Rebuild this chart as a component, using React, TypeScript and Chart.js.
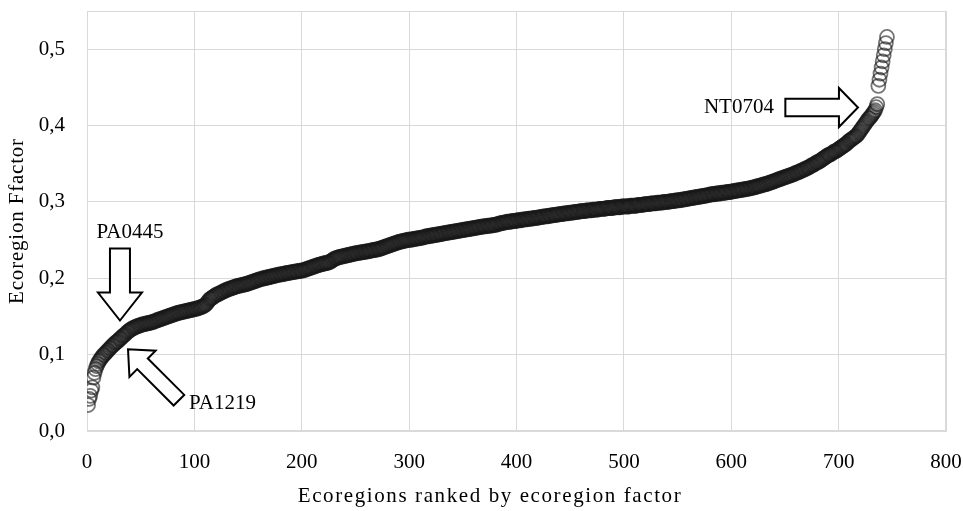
import React, { useEffect, useRef } from 'react';
import { Chart, registerables } from 'chart.js';

Chart.register(...registerables);

// Ecoregion factor values, ranked ascending (rank = position + 1)
const factorsA = [
  0.034, 0.042, 0.046, 0.053, 0.057, 0.070, 0.076, 0.081, 0.085, 0.088,
  0.091, 0.093, 0.095, 0.097, 0.099, 0.100, 0.102, 0.103, 0.105, 0.106,
  0.108, 0.109, 0.111, 0.112, 0.113, 0.115, 0.116, 0.117, 0.118, 0.120,
  0.121, 0.122, 0.124, 0.125, 0.126, 0.127, 0.129, 0.130, 0.131, 0.132,
  0.133, 0.134, 0.135, 0.135, 0.136, 0.137, 0.137, 0.138, 0.138, 0.139,
  0.139, 0.140, 0.140, 0.140, 0.141, 0.141, 0.141, 0.142, 0.142, 0.142,
  0.143, 0.143, 0.144, 0.144, 0.145, 0.145, 0.146, 0.146, 0.147, 0.147,
  0.148, 0.148, 0.149, 0.149, 0.150, 0.150, 0.151, 0.151, 0.152, 0.152,
  0.153, 0.153, 0.154, 0.154, 0.155, 0.155, 0.155, 0.156, 0.156, 0.156,
  0.157, 0.157, 0.157, 0.158, 0.158, 0.158, 0.159, 0.159, 0.159, 0.160,
  0.160, 0.160, 0.161, 0.161, 0.162, 0.162, 0.163, 0.163, 0.164, 0.165,
  0.166, 0.168, 0.170, 0.172, 0.173, 0.174, 0.175, 0.176, 0.177, 0.178,
];

const factorsB = [
  0.179, 0.179, 0.180, 0.181, 0.181, 0.182, 0.183, 0.183, 0.184, 0.185,
  0.185, 0.186, 0.186, 0.187, 0.187, 0.188, 0.188, 0.189, 0.189, 0.190,
  0.190, 0.190, 0.191, 0.191, 0.191, 0.192, 0.192, 0.192, 0.193, 0.193,
  0.194, 0.194, 0.195, 0.195, 0.196, 0.196, 0.197, 0.197, 0.198, 0.198,
  0.199, 0.199, 0.199, 0.200, 0.200, 0.200, 0.201, 0.201, 0.201, 0.202,
  0.202, 0.202, 0.203, 0.203, 0.203, 0.204, 0.204, 0.204, 0.205, 0.205,
  0.205, 0.205, 0.206, 0.206, 0.206, 0.207, 0.207, 0.207, 0.207, 0.208,
  0.208, 0.208, 0.208, 0.209, 0.209, 0.209, 0.209, 0.210, 0.210, 0.210,
  0.210, 0.211, 0.211, 0.212, 0.212, 0.213, 0.213, 0.214, 0.214, 0.215,
  0.215, 0.216, 0.216, 0.217, 0.217, 0.218, 0.218, 0.218, 0.219, 0.219,
  0.219, 0.220, 0.220, 0.220, 0.221, 0.221, 0.222, 0.223, 0.224, 0.225,
  0.226, 0.226, 0.227, 0.227, 0.228, 0.228, 0.228, 0.229, 0.229, 0.229,
  0.230, 0.230, 0.230, 0.231, 0.231, 0.231, 0.232, 0.232, 0.232, 0.233,
  0.233, 0.233, 0.233, 0.234, 0.234, 0.234, 0.234, 0.235, 0.235, 0.235,
  0.235, 0.236, 0.236, 0.236, 0.236, 0.237, 0.237, 0.237, 0.237, 0.238,
  0.238, 0.238, 0.239, 0.239, 0.240, 0.240, 0.241, 0.241, 0.242, 0.242,
  0.243, 0.243, 0.244, 0.244, 0.245, 0.245, 0.246, 0.246, 0.247, 0.247,
  0.248, 0.248, 0.248, 0.249, 0.249, 0.249, 0.250, 0.250, 0.250, 0.251,
];

const factorsC = [
  0.250, 0.251, 0.251, 0.251, 0.252, 0.252, 0.252, 0.252, 0.253, 0.253,
  0.253, 0.253, 0.254, 0.254, 0.254, 0.255, 0.255, 0.255, 0.255, 0.256,
  0.256, 0.256, 0.256, 0.257, 0.257, 0.257, 0.257, 0.258, 0.258, 0.258,
  0.258, 0.259, 0.259, 0.259, 0.259, 0.260, 0.260, 0.260, 0.260, 0.261,
  0.261, 0.261, 0.261, 0.262, 0.262, 0.262, 0.262, 0.263, 0.263, 0.263,
  0.263, 0.264, 0.264, 0.264, 0.264, 0.265, 0.265, 0.265, 0.265, 0.266,
  0.266, 0.266, 0.266, 0.267, 0.267, 0.267, 0.267, 0.268, 0.268, 0.268,
  0.268, 0.268, 0.269, 0.269, 0.269, 0.269, 0.269, 0.270, 0.270, 0.270,
  0.270, 0.271, 0.271, 0.272, 0.272, 0.272, 0.273, 0.273, 0.273, 0.273,
  0.274, 0.274, 0.274, 0.274, 0.274, 0.275, 0.275, 0.275, 0.275, 0.275,
  0.276, 0.276, 0.276, 0.276, 0.276, 0.277, 0.277, 0.277, 0.277, 0.277,
  0.278, 0.278, 0.278, 0.278, 0.278, 0.279, 0.279, 0.279, 0.279, 0.279,
  0.280, 0.280, 0.280, 0.280, 0.281, 0.281, 0.281, 0.281, 0.281, 0.282,
  0.282, 0.282, 0.282, 0.283, 0.283, 0.283, 0.283, 0.283, 0.284, 0.284,
  0.284, 0.284, 0.284, 0.285, 0.285, 0.285, 0.285, 0.285, 0.286, 0.286,
  0.286, 0.286, 0.286, 0.287, 0.287, 0.287, 0.287, 0.287, 0.288, 0.288,
  0.288, 0.288, 0.288, 0.288, 0.289, 0.289, 0.289, 0.289, 0.289, 0.289,
  0.290, 0.290, 0.290, 0.290, 0.290, 0.290, 0.291, 0.291, 0.291, 0.291,
  0.291, 0.291, 0.291, 0.292, 0.292, 0.292, 0.292, 0.292, 0.292, 0.292,
  0.293, 0.293, 0.293, 0.293, 0.293, 0.293, 0.293, 0.294, 0.294, 0.294,
];

const factorsD = [
  0.294, 0.294, 0.294, 0.294, 0.294, 0.295, 0.295, 0.295, 0.295, 0.295,
  0.295, 0.295, 0.296, 0.296, 0.296, 0.296, 0.296, 0.296, 0.297, 0.297,
  0.297, 0.297, 0.297, 0.297, 0.298, 0.298, 0.298, 0.298, 0.298, 0.298,
  0.299, 0.299, 0.299, 0.299, 0.299, 0.299, 0.300, 0.300, 0.300, 0.300,
  0.300, 0.300, 0.301, 0.301, 0.301, 0.301, 0.301, 0.302, 0.302, 0.302,
  0.302, 0.302, 0.303, 0.303, 0.303, 0.303, 0.304, 0.304, 0.304, 0.304,
  0.305, 0.305, 0.305, 0.305, 0.306, 0.306, 0.306, 0.306, 0.307, 0.307,
  0.307, 0.307, 0.308, 0.308, 0.308, 0.308, 0.309, 0.309, 0.309, 0.309,
  0.310, 0.310, 0.310, 0.310, 0.310, 0.311, 0.311, 0.311, 0.311, 0.311,
  0.312, 0.312, 0.312, 0.312, 0.312, 0.313, 0.313, 0.313, 0.313, 0.313,
  0.314, 0.314, 0.314, 0.314, 0.315, 0.315, 0.315, 0.315, 0.316, 0.316,
  0.316, 0.316, 0.317, 0.317, 0.317, 0.317, 0.318, 0.318, 0.318, 0.319,
  0.319, 0.319, 0.320, 0.320, 0.321, 0.321, 0.321, 0.322, 0.322, 0.323,
  0.323, 0.323, 0.324, 0.324, 0.325, 0.325, 0.326, 0.326, 0.327, 0.327,
  0.328, 0.328, 0.329, 0.329, 0.330, 0.330, 0.331, 0.331, 0.332, 0.332,
  0.333, 0.333, 0.334, 0.334, 0.335, 0.335, 0.336, 0.336, 0.337, 0.338,
  0.338, 0.339, 0.339, 0.340, 0.341, 0.341, 0.342, 0.343, 0.343, 0.344,
  0.345, 0.345, 0.346, 0.347, 0.348, 0.348, 0.349, 0.350, 0.351, 0.352,
  0.352, 0.353, 0.354, 0.355, 0.356, 0.357, 0.358, 0.359, 0.360, 0.361,
  0.362, 0.362, 0.363, 0.364, 0.365, 0.366, 0.366, 0.367, 0.368, 0.369,
];

const factorsE = [
  0.370, 0.371, 0.372, 0.373, 0.374, 0.375, 0.376, 0.377, 0.379, 0.380,
  0.381, 0.382, 0.383, 0.384, 0.385, 0.386, 0.387, 0.389, 0.391, 0.393,
  0.395, 0.397, 0.399, 0.401, 0.403, 0.405, 0.407, 0.409, 0.410, 0.412,
  0.414, 0.416, 0.418, 0.420, 0.424, 0.428,
  0.452, 0.460, 0.468, 0.476, 0.484, 0.492, 0.500, 0.508, 0.516,
];

const factors = [...factorsA, ...factorsB, ...factorsC, ...factorsD, ...factorsE];
const ranks = factors.map((_, i) => i + 1);

const xTitle = 'Ecoregions ranked by ecoregion factor';
const yTitle = 'Ecoregion Ffactor';

// annotated ecoregions: label and arrow tip (rank, factor)
const annLabels = ['PA0445', 'PA1219', 'NT0704'];
const annTipRank = [30.7, 38.2, 718];
const annTipValue = [0.1447, 0.107, 0.4237];

const FONT = '"Liberation Serif", "Times New Roman", serif';

function blockArrow(ctx, tx, ty, angle, length, headLen, headHalf, shaftHalf) {
  ctx.save();
  ctx.translate(tx, ty);
  ctx.rotate(angle);
  ctx.beginPath();
  ctx.moveTo(0, 0);
  ctx.lineTo(-headLen, -headHalf);
  ctx.lineTo(-headLen, -shaftHalf);
  ctx.lineTo(-length, -shaftHalf);
  ctx.lineTo(-length, shaftHalf);
  ctx.lineTo(-headLen, shaftHalf);
  ctx.lineTo(-headLen, headHalf);
  ctx.closePath();
  ctx.fillStyle = '#ffffff';
  ctx.fill();
  ctx.lineWidth = 2;
  ctx.lineJoin = 'miter';
  ctx.strokeStyle = '#000000';
  ctx.stroke();
  ctx.restore();
}

const decorPlugin = {
  id: 'decor',
  beforeDatasetsDraw(chart) {
    const { ctx, chartArea } = chart;
    ctx.save();
    ctx.strokeStyle = '#d9d9d9';
    ctx.lineWidth = 1;
    ctx.strokeRect(chartArea.left + 0.5, chartArea.top + 0.5, chartArea.right - chartArea.left - 1, chartArea.bottom - chartArea.top - 1);
    ctx.restore();
  },
  afterDatasetsDraw(chart) {
    const { ctx } = chart;
    const xs = chart.scales.x;
    const ys = chart.scales.y;
    const px = annTipRank.map((r) => xs.getPixelForValue(r));
    const py = annTipValue.map((v) => ys.getPixelForValue(v));

    ctx.save();
    ctx.font = `21px ${FONT}`;
    ctx.fillStyle = '#000';
    ctx.textBaseline = 'middle';

    // PA0445 - pointing down
    blockArrow(ctx, px[0], py[0], Math.PI / 2, 72, 28, 22, 10);
    ctx.textAlign = 'center';
    ctx.fillText(annLabels[0], px[0] + 10, py[0] - 88);

    // PA1219 - pointing up-left
    blockArrow(ctx, px[1], py[1], -3 * Math.PI / 4, 72, 20.5, 18.5, 7.5);
    ctx.textAlign = 'left';
    ctx.fillText(annLabels[1], px[1] + 61, py[1] + 54);

    // NT0704 - pointing right
    blockArrow(ctx, px[2], py[2], 0, 72.6, 19, 19.5, 8.8);
    ctx.textAlign = 'right';
    ctx.fillText(annLabels[2], px[2] - 84, py[2]);

    ctx.restore();
  },
  afterDraw(chart) {
    const { ctx, chartArea } = chart;
    ctx.save();
    ctx.fillStyle = '#000';
    ctx.font = `21px ${FONT}`;
    ctx.textAlign = 'center';
    ctx.textBaseline = 'middle';
    try { ctx.letterSpacing = '1.6px'; } catch (e) {}
    ctx.fillText(xTitle, 490, 496);
    try { ctx.letterSpacing = '0.8px'; } catch (e) {}
    ctx.translate(17, (chartArea.top + chartArea.bottom) / 2);
    ctx.rotate(-Math.PI / 2);
    ctx.fillText(yTitle, 0, 0);
    ctx.restore();
  },
};

export default function App() {
  const canvasRef = useRef(null);

  useEffect(() => {
    document.body.style.margin = '0';
    const canvas = canvasRef.current;
    if (!canvas) return;
    const chart = new Chart(canvas, {
      type: 'scatter',
      data: {
        datasets: [
          {
            label: 'Ecoregion factor',
            data: ranks.map((r, i) => ({ x: r, y: factors[i] })),
            pointStyle: 'circle',
            pointRadius: 7,
            pointBorderWidth: 1.8,
            pointBorderColor: 'rgba(25,25,25,0.6)',
            pointBackgroundColor: 'rgba(0,0,0,0)',
            showLine: false,
          },
        ],
      },
      options: {
        animation: false,
        responsive: true,
        maintainAspectRatio: false,
        events: [],
        layout: { padding: { top: 11, right: 17, left: 0, bottom: 0 } },
        plugins: {
          legend: { display: false },
          tooltip: { enabled: false },
          title: { display: false },
        },
        scales: {
          x: {
            type: 'linear',
            min: 0,
            max: 800,
            ticks: {
              stepSize: 100,
              padding: 19,
              color: '#000',
              font: { family: FONT, size: 21 },
              callback: (v) => String(v),
            },
            grid: { color: '#d9d9d9', drawTicks: false, lineWidth: 1 },
            border: { color: '#d9d9d9' },
            afterFit: (scale) => {
              scale.height = 80;
              scale.paddingLeft = 0;
              scale.paddingRight = 0;
            },
          },
          y: {
            type: 'linear',
            min: 0,
            max: 0.55,
            ticks: {
              stepSize: 0.1,
              padding: 22,
              color: '#000',
              font: { family: FONT, size: 21 },
              callback: (v) => Number(v).toFixed(1).replace('.', ','),
            },
            afterBuildTicks: (scale) => {
              scale.ticks = scale.ticks.filter((t) => t.value <= 0.5 + 1e-9);
            },
            grid: { color: '#d9d9d9', drawTicks: false, lineWidth: 1 },
            border: { color: '#d9d9d9' },
            afterFit: (scale) => {
              scale.width = 87;
              scale.paddingTop = 0;
              scale.paddingBottom = 0;
            },
          },
        },
      },
      plugins: [decorPlugin],
    });
    return () => chart.destroy();
  }, []);

  return (
    <div style={{ width: 963, height: 511, position: 'relative' }}>
      <canvas ref={canvasRef} />
    </div>
  );
}
